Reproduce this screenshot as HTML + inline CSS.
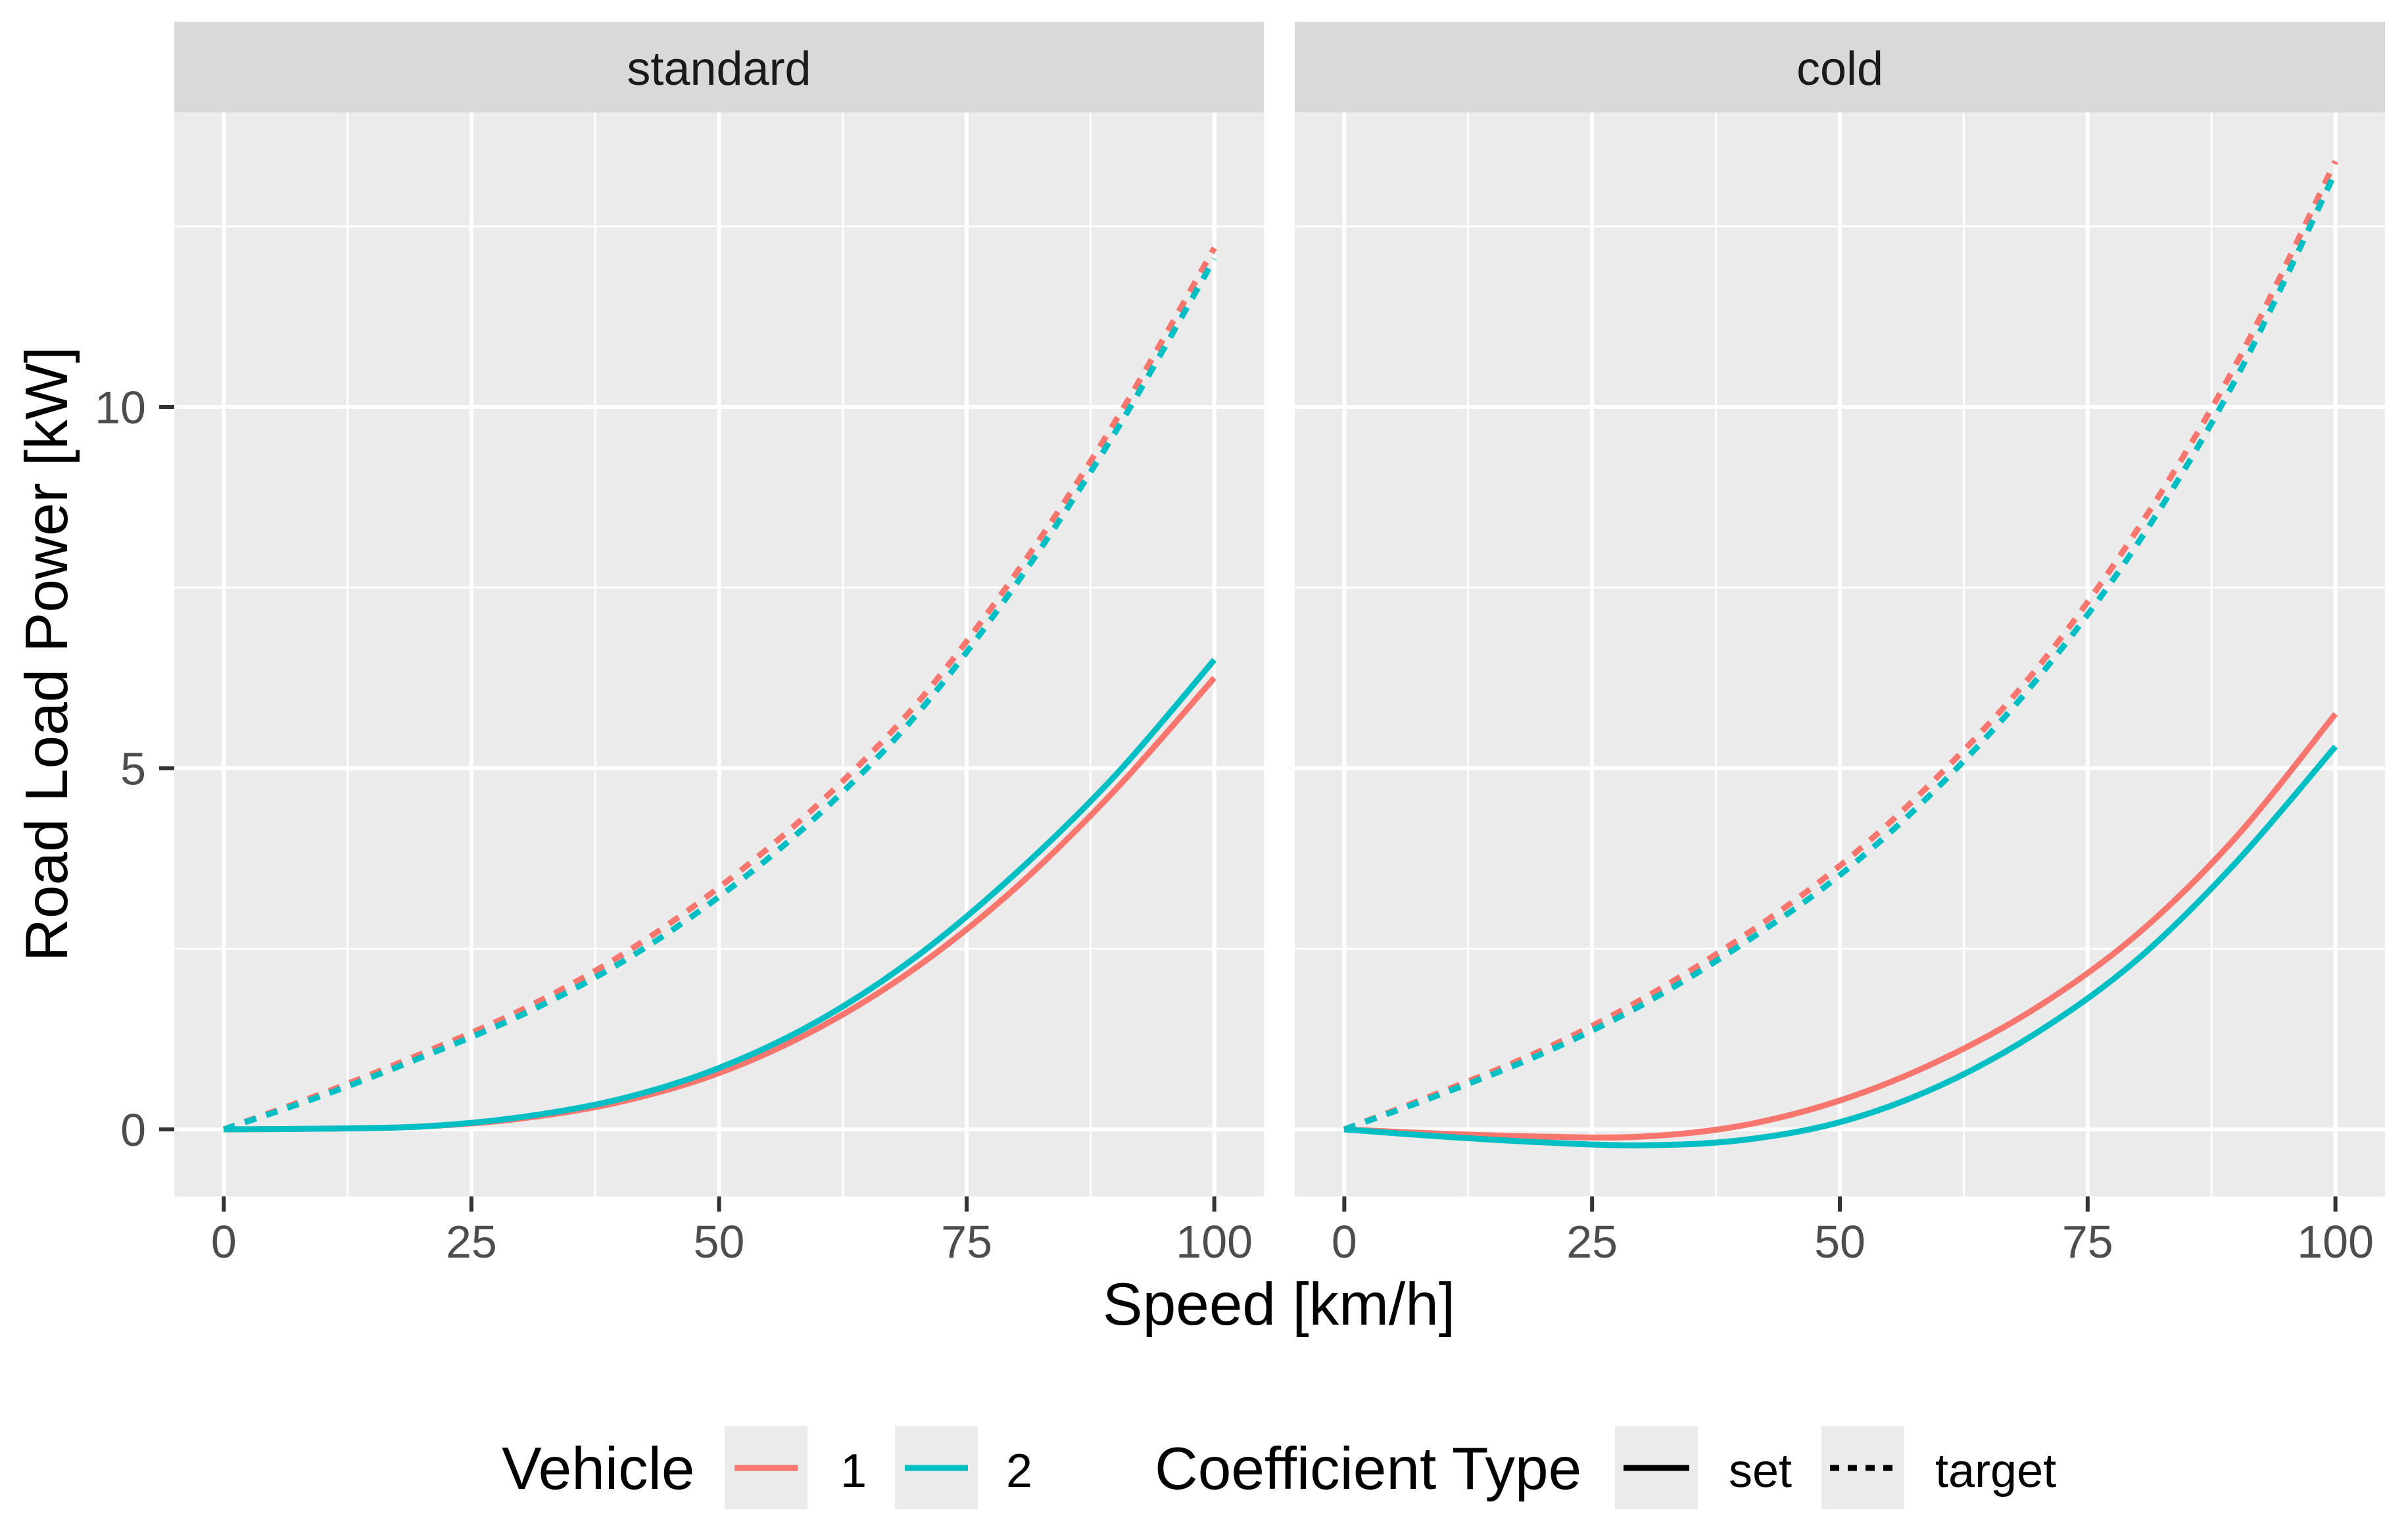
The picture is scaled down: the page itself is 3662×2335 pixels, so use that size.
<!DOCTYPE html>
<html><head><meta charset="utf-8"><style>
html,body{margin:0;padding:0;background:#fff}
svg{display:block}
text{font-family:"Liberation Sans",Arial,sans-serif}
</style></head><body>
<svg id="chart" width="3662" height="2335" viewBox="0 0 3662 2335" xmlns="http://www.w3.org/2000/svg">
<g id="panels"></g>
<text x="1945" y="2015" font-size="91" text-anchor="middle" fill="#000">Speed [km/h]</text>
<text transform="translate(102,995) rotate(-90)" font-size="91" text-anchor="middle" fill="#000">Road Load Power [kW]</text>
<g>
  <text x="763" y="2265" font-size="91" fill="#000">Vehicle</text>
  <rect x="1102" y="2169" width="126" height="127" fill="#EBEBEB"/>
  <line x1="1117" y1="2233" x2="1213" y2="2233" stroke="#F8766D" stroke-width="9"/>
  <text x="1278" y="2262" font-size="72" fill="#000">1</text>
  <rect x="1361" y="2169" width="126" height="127" fill="#EBEBEB"/>
  <line x1="1376" y1="2233" x2="1472" y2="2233" stroke="#00BFC4" stroke-width="9"/>
  <text x="1530" y="2262" font-size="72" fill="#000">2</text>
  <text x="1756" y="2265" font-size="91" fill="#000">Coefficient Type</text>
  <rect x="2456" y="2169" width="126" height="127" fill="#EBEBEB"/>
  <line x1="2469" y1="2233" x2="2569" y2="2233" stroke="#000" stroke-width="9"/>
  <text x="2629" y="2262" font-size="72" fill="#000">set</text>
  <rect x="2770" y="2169" width="126" height="127" fill="#EBEBEB"/>
  <line x1="2783" y1="2233" x2="2883" y2="2233" stroke="#000" stroke-width="9" stroke-dasharray="14,13"/>
  <text x="2943" y="2262" font-size="72" fill="#000">target</text>
</g>
</svg>
<script>
const speeds = [0,10,20,30,40,50,60,70,80,90,100];
const facets = ["standard","cold"];
const stdSet1 = [0,0.01,0.04,0.15,0.38,0.78,1.4,2.25,3.35,4.7,6.25];
const stdSet2 = [0,0.01,0.04,0.17,0.42,0.85,1.5,2.4,3.55,4.9,6.5];
const stdTarget1 = [0,0.5,1.05,1.65,2.4,3.35,4.5,5.9,7.7,9.8,12.2];
const stdTarget2 = [0,0.47,1.0,1.58,2.3,3.22,4.35,5.75,7.55,9.65,12.05];
const coldSet1 = [0,-0.06,-0.1,-0.1,0.05,0.4,0.95,1.7,2.7,4.05,5.75];
const coldSet2 = [0,-0.1,-0.18,-0.22,-0.15,0.1,0.6,1.35,2.35,3.7,5.3];
const coldTarget1 = [0,0.53,1.1,1.8,2.65,3.65,4.9,6.4,8.3,10.6,13.4];
const coldTarget2 = [0,0.5,1.05,1.72,2.55,3.52,4.75,6.25,8.1,10.4,13.25];
const xTicks = [0,25,50,75,100];
const xMinor = [12.5,37.5,62.5,87.5];
const yTicks = [0,5,10];
const yMinor = [2.5,7.5,12.5];
const tickLabelsX = ["0","25","50","75","100"];
const tickLabelsY = ["0","5","10"];

const NS = "http://www.w3.org/2000/svg";
const panelsG = document.getElementById("panels");
const panelBoxes = [{x0:265,x1:1922},{x0:1969,x1:3627}];
const PT = 171, PB = 1820, ST = 33;
const yMin = -0.928, yMax = 14.077;
function yScale(v){ return PB - (v - yMin)/(yMax - yMin)*(PB-PT); }
function makeX(b){ const xmin=-5, xmax=105; return v => b.x0 + (v-xmin)/(xmax-xmin)*(b.x1-b.x0); }
function el(tag, attrs, parent){ const e=document.createElementNS(NS,tag); for(const k in attrs) e.setAttribute(k,attrs[k]); parent.appendChild(e); return e; }
function pathFrom(xs, ys, xS){
  const p = xs.map((x,i)=>[xS(x), yScale(ys[i])]);
  let d = "M"+p[0][0]+","+p[0][1];
  for(let i=0;i<p.length-1;i++){
    const p0=p[Math.max(i-1,0)], p1=p[i], p2=p[i+1], p3=p[Math.min(i+2,p.length-1)];
    const c1=[p1[0]+(p2[0]-p0[0])/6, p1[1]+(p2[1]-p0[1])/6];
    const c2=[p2[0]-(p3[0]-p1[0])/6, p2[1]-(p3[1]-p1[1])/6];
    d += " C"+c1[0]+","+c1[1]+" "+c2[0]+","+c2[1]+" "+p2[0]+","+p2[1];
  }
  return d;
}
const seriesByFacet = [
  [[stdTarget1,"#F8766D",true],[stdTarget2,"#00BFC4",true],[stdSet1,"#F8766D",false],[stdSet2,"#00BFC4",false]],
  [[coldTarget1,"#F8766D",true],[coldTarget2,"#00BFC4",true],[coldSet1,"#F8766D",false],[coldSet2,"#00BFC4",false]]
];
const seriesNames = ["target-vehicle-1","target-vehicle-2","set-vehicle-1","set-vehicle-2"];
facets.forEach((f, fi) => {
  const b = panelBoxes[fi], xS = makeX(b);
  const g = el("g", {}, panelsG);
  
  
  const bg = el("rect", {x:b.x0, y:PT, width:b.x1-b.x0, height:PB-PT, fill:"#EBEBEB"}, g);
  
  
  const strip = el("rect", {x:b.x0, y:ST, width:b.x1-b.x0, height:PT-ST, fill:"#D9D9D9"}, g);
  
  
  const st = el("text", {x:(b.x0+b.x1)/2, y:129, "font-size":72, "text-anchor":"middle", fill:"#1A1A1A"}, g);
  st.textContent = f;
  
  
  yMinor.forEach(v => { const l=el("line",{x1:b.x0,x2:b.x1,y1:yScale(v),y2:yScale(v),stroke:"#fff","stroke-width":3},g);
      });
  xMinor.forEach(v => { const l=el("line",{x1:xS(v),x2:xS(v),y1:PT,y2:PB,stroke:"#fff","stroke-width":3},g);
      });
  yTicks.forEach(v => { const l=el("line",{x1:b.x0,x2:b.x1,y1:yScale(v),y2:yScale(v),stroke:"#fff","stroke-width":6},g);
      });
  xTicks.forEach((v,i) => {
    const l=el("line",{x1:xS(v),x2:xS(v),y1:PT,y2:PB,stroke:"#fff","stroke-width":6},g);
     
    const t=el("line",{x1:xS(v),x2:xS(v),y1:PB,y2:PB+23,stroke:"#333","stroke-width":6},g);
     
    const tl=el("text",{x:xS(v),y:1913,"font-size":70,"text-anchor":"middle",fill:"#4D4D4D"},g);
    tl.textContent = tickLabelsX[i];
     
  });
  if (fi === 0) {
    yTicks.forEach((v,i) => {
      const t=el("line",{x1:b.x0-23,x2:b.x0,y1:yScale(v),y2:yScale(v),stroke:"#333","stroke-width":6},g);
       
      const tl=el("text",{x:222,y:yScale(v)+25,"font-size":70,"text-anchor":"end",fill:"#4D4D4D"},g);
      tl.textContent = tickLabelsY[i];
       
    });
  }
  seriesByFacet[fi].forEach((s, si) => {
    const attrs = {d:pathFrom(speeds, s[0], xS), fill:"none", stroke:s[1], "stroke-width":9, "stroke-linejoin":"round"};
    if (s[2]) attrs["stroke-dasharray"] = "18,16";
    const p = el("path", attrs, g);
    
    
  });
});
</script>
</body></html>
